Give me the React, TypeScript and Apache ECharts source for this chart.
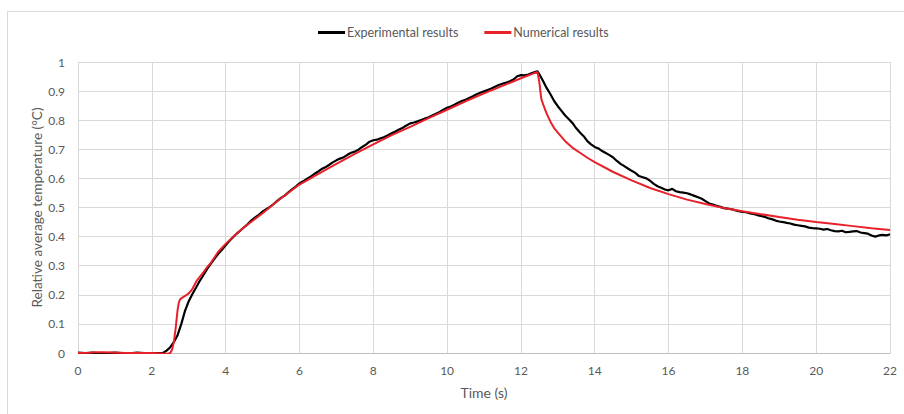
import React, { useEffect, useRef } from "react";
import * as echarts from "echarts";

const seriesNames = ["Experimental results", "Numerical results"];

const xTicks = { min: 0, max: 22, interval: 2 };
const yTicks = { min: 0, max: 1, interval: 0.1 };

const expTime = [
  0, 0.2, 0.4, 0.6, 0.8, 1.0, 1.2, 1.4, 1.6, 1.8, 2.0, 2.2, 2.3,
  2.4, 2.5, 2.6, 2.7, 2.8, 2.9, 3.0, 3.1, 3.2, 3.3, 3.4, 3.5, 3.6, 3.7, 3.8, 3.9,
  4.0, 4.1, 4.2, 4.3, 4.4, 4.5, 4.6, 4.7, 4.8, 4.9,
  5.0, 5.1, 5.2, 5.3, 5.4, 5.5, 5.6, 5.7, 5.8, 5.9,
  6.0, 6.1, 6.2, 6.3, 6.4, 6.5, 6.6, 6.7, 6.8, 6.9,
  7.0, 7.1, 7.2, 7.3, 7.4, 7.5, 7.6, 7.7, 7.8, 7.9,
  8.0, 8.1, 8.2, 8.3, 8.4, 8.5, 8.6, 8.7, 8.8, 8.9,
  9.0, 9.1, 9.2, 9.3, 9.4, 9.5, 9.6, 9.7, 9.8, 9.9,
  10.0, 10.1, 10.2, 10.3, 10.4, 10.5, 10.6, 10.7, 10.8, 10.9,
  11.0, 11.1, 11.2, 11.3, 11.4, 11.5, 11.6, 11.7, 11.8, 11.9,
  12.0, 12.1, 12.2, 12.3, 12.4, 12.45, 12.5, 12.6, 12.7, 12.8, 12.9,
  13.0, 13.1, 13.2, 13.3, 13.4, 13.5, 13.6, 13.7, 13.8, 13.9,
  14.0, 14.1, 14.2, 14.3, 14.4, 14.5, 14.6, 14.7, 14.8, 14.9,
  15.0, 15.1, 15.2, 15.3, 15.4, 15.5, 15.6, 15.7, 15.8, 15.9,
  16.0, 16.1, 16.2, 16.3, 16.4, 16.5, 16.6, 16.7, 16.8, 16.9,
  17.0, 17.1, 17.2, 17.3, 17.4, 17.5, 17.6, 17.7, 17.8, 17.9,
  18.0, 18.1, 18.2, 18.3, 18.4, 18.5, 18.6, 18.7, 18.8, 18.9,
  19.0, 19.1, 19.2, 19.3, 19.4, 19.5, 19.6, 19.7, 19.8, 19.9,
  20.0, 20.1, 20.2, 20.3, 20.4, 20.5, 20.6, 20.7, 20.8, 20.9,
  21.0, 21.1, 21.2, 21.3, 21.4, 21.5, 21.6, 21.7, 21.8, 21.9, 22.0,
];

const expValue = [
  0.001, 0.0, 0.001, -0.001, 0.0, 0.001, 0.0, -0.001, 0.001, 0.0, -0.001, 0.0, 0.0,
  0.008, 0.02, 0.038, 0.062, 0.1, 0.145, 0.178, 0.203, 0.225, 0.248, 0.268, 0.289, 0.307, 0.324, 0.341, 0.355,
  0.37, 0.385, 0.398, 0.41, 0.421, 0.432, 0.443, 0.456, 0.466, 0.475,
  0.486, 0.494, 0.502, 0.512, 0.523, 0.533, 0.541, 0.552, 0.562, 0.572,
  0.583, 0.59, 0.598, 0.606, 0.615, 0.623, 0.632, 0.638, 0.646, 0.655,
  0.662, 0.668, 0.673, 0.681, 0.688, 0.692, 0.699, 0.708, 0.716, 0.726,
  0.731, 0.733, 0.738, 0.742, 0.748, 0.755, 0.761, 0.768, 0.774, 0.782,
  0.789, 0.792, 0.796, 0.801, 0.806, 0.81, 0.816, 0.822, 0.828, 0.836,
  0.843, 0.847, 0.853, 0.86, 0.866, 0.87, 0.876, 0.882, 0.889, 0.894,
  0.899, 0.904, 0.909, 0.915, 0.921, 0.925, 0.929, 0.934, 0.94, 0.951,
  0.955, 0.954, 0.957, 0.962, 0.966, 0.968, 0.958, 0.935, 0.91, 0.889, 0.866,
  0.848, 0.832, 0.816, 0.803, 0.79, 0.772, 0.758, 0.745, 0.728, 0.717,
  0.708, 0.703, 0.694, 0.687, 0.68, 0.672, 0.66, 0.65, 0.642, 0.634,
  0.626, 0.619, 0.608, 0.604, 0.6, 0.592, 0.581, 0.573, 0.568, 0.562,
  0.559, 0.564, 0.556, 0.553, 0.551, 0.549, 0.545, 0.54, 0.535, 0.53,
  0.522, 0.514, 0.51, 0.506, 0.502, 0.498, 0.496, 0.494, 0.491, 0.487,
  0.485, 0.484, 0.48, 0.478, 0.474, 0.471, 0.468, 0.463, 0.46, 0.455,
  0.452, 0.45, 0.447, 0.445, 0.441, 0.439, 0.437, 0.435, 0.431, 0.429,
  0.428, 0.427, 0.424, 0.426, 0.422, 0.419, 0.418, 0.42, 0.415, 0.416,
  0.418, 0.419, 0.414, 0.412, 0.41, 0.404, 0.4, 0.404, 0.406, 0.404, 0.408,
];

const numTime = [
  0, 0.3, 0.5, 0.7, 0.9, 1.1, 1.3, 1.5, 2.0, 2.4, 2.5, 2.55, 2.6, 2.65, 2.7, 2.73, 2.76,
  2.8, 2.85, 2.9, 2.95, 3.0, 3.1, 3.2, 3.3, 3.4, 3.5, 3.6, 3.8, 4.0, 4.25, 4.5, 4.75,
  5.0, 5.5, 6.0, 6.5, 7.0, 7.5, 8.0, 8.5, 9.0, 9.5, 10.0, 10.5, 11.0, 11.5, 12.0, 12.45,
  12.5, 12.55, 12.6, 12.7, 12.8, 12.9, 13.0, 13.2, 13.4, 13.6, 13.8, 14.0, 14.5, 15.0,
  15.5, 16.0, 16.5, 17.0, 17.5, 18.0, 18.5, 19.0, 19.5, 20.0, 20.5, 21.0, 21.5, 22.0,
];

const numValue = [
  0, 0.001, 0.003, 0.003, 0.002, 0.001, 0, 0, 0, -0.003, 0.0, 0.012, 0.04, 0.09, 0.15, 0.172, 0.183,
  0.188, 0.192, 0.196, 0.2, 0.205, 0.22, 0.245, 0.262, 0.278, 0.295, 0.31, 0.348, 0.375, 0.405, 0.432, 0.456,
  0.48, 0.532, 0.579, 0.615, 0.65, 0.684, 0.717, 0.749, 0.777, 0.807, 0.836, 0.865, 0.892, 0.918, 0.944, 0.966,
  0.93, 0.875, 0.855, 0.822, 0.795, 0.773, 0.757, 0.728, 0.705, 0.688, 0.671, 0.656, 0.622, 0.593,
  0.567, 0.546, 0.527, 0.512, 0.498, 0.487, 0.477, 0.467, 0.458, 0.45, 0.443, 0.436, 0.429, 0.423,
];

const FONT = "Lato, 'Open Sans', sans-serif";
const TEXT = "#595959";

export default function App() {
  const ref = useRef<HTMLDivElement>(null);
  useEffect(() => {
    if (!ref.current) return;
    const chart = echarts.init(ref.current, undefined, { renderer: "svg" });
    const expData = expTime.map((t, i) => [t, expValue[i]]);
    const numData = numTime.map((t, i) => [t, numValue[i]]);
    chart.setOption({
      animation: false,
      backgroundColor: "#ffffff",
      textStyle: { fontFamily: FONT },
      graphic: [
        {
          type: "rect",
          shape: { x: 7.5, y: 11.5, width: 910, height: 420 },
          style: { fill: "none", stroke: "#d9d9d9", lineWidth: 1 },
          silent: true,
        },
      ],
      legend: {
        top: 21,
        left: 313,
        itemWidth: 27,
        itemHeight: 3,
        itemGap: 26,
        icon: "rect",
        textStyle: { color: TEXT, fontSize: 12.5, fontFamily: FONT, padding: [0, 0, 0, -3] },
        data: seriesNames,
      },
      grid: { left: 78, right: 14, top: 62, bottom: 61, containLabel: false },
      xAxis: {
        type: "value",
        min: xTicks.min,
        max: xTicks.max,
        interval: xTicks.interval,
        name: "Time (s)",
        nameLocation: "middle",
        nameGap: 32,
        nameMoveOverlap: false,
        nameTextStyle: { color: TEXT, fontSize: 14, fontFamily: FONT },
        axisLine: { show: true, lineStyle: { color: "#bfbfbf", width: 1 } },
        axisTick: { show: false },
        axisLabel: { color: TEXT, fontSize: 12, margin: 11, fontFamily: FONT },
        splitLine: { show: true, lineStyle: { color: "#d9d9d9", width: 1 } },
      },
      yAxis: {
        type: "value",
        min: yTicks.min,
        max: yTicks.max,
        interval: yTicks.interval,
        name: "Relative average temperature (°C)",
        nameLocation: "middle",
        nameGap: 34,
        nameMoveOverlap: false,
        nameTextStyle: { color: TEXT, fontSize: 13.6, fontFamily: FONT },
        axisLine: { show: false },
        axisTick: { show: false },
        axisLabel: {
          color: TEXT,
          fontSize: 12,
          margin: 13,
          fontFamily: FONT,
          formatter: (v: number) => String(Math.round(v * 10) / 10),
        },
        splitLine: { show: true, lineStyle: { color: "#d9d9d9", width: 1 } },
      },
      series: [
        {
          name: seriesNames[0],
          type: "line",
          data: expData,
          showSymbol: false,
          symbol: "none",
          lineStyle: { color: "#000000", width: 2.2 },
          itemStyle: { color: "#000000" },
          z: 2,
        },
        {
          name: seriesNames[1],
          type: "line",
          data: numData,
          showSymbol: false,
          symbol: "none",
          lineStyle: { color: "#e8202a", width: 2 },
          itemStyle: { color: "#e8202a" },
          z: 3,
        },
      ],
    });
    return () => chart.dispose();
  }, []);
  return (
    <div
      ref={ref}
      style={{ position: "absolute", left: 0, top: 0, width: 904, height: 414 }}
    />
  );
}
